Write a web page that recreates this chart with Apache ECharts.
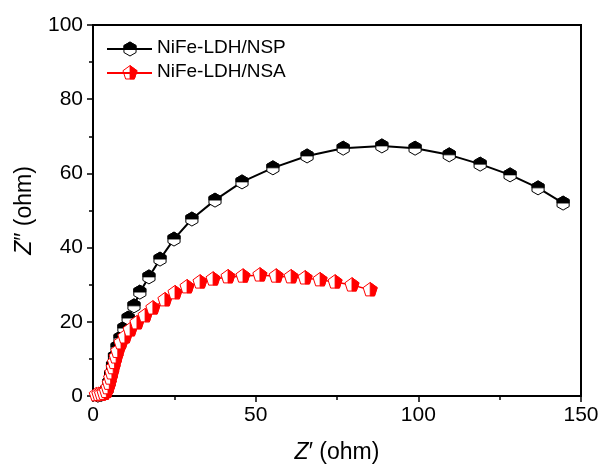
<!DOCTYPE html>
<html>
<head>
<meta charset="utf-8">
<script src="https://cdn.jsdelivr.net/npm/echarts@6/dist/echarts.min.js"></script>
<style>
html,body{margin:0;padding:0;background:#fff;}
#chart{width:612px;height:470px;}
</style>
</head>
<body>
<div id="chart"></div>
<script>
// ---- data ----
const seriesNames = ['NiFe-LDH/NSP', 'NiFe-LDH/NSA'];
const nspX = [1.5,2.5,3.5,4.3,4.9,5.4,6.0,6.6,7.4,8.3,9.5,10.8,12.6,14.4,17.2,20.6,24.9,30.4,37.5,45.8,55.3,65.8,76.9,88.8,99.0,109.5,119.0,128.2,136.8,144.5];
const nspY = [0.2,0.4,0.8,1.8,3.6,5.8,8.2,10.6,13.2,15.6,18.3,21.0,24.3,28.0,32.1,36.9,42.3,47.7,52.8,57.7,61.5,64.7,66.8,67.4,66.8,65.0,62.5,59.6,56.1,52.0];
const nsaX = [1.0,1.8,2.6,3.4,4.1,4.6,5.0,5.4,5.8,6.2,6.6,7.1,7.6,8.6,9.8,11.4,13.5,16.0,18.4,22.1,25.2,28.9,32.9,36.9,41.5,46.1,51.3,56.3,60.9,65.2,69.8,74.4,79.6,85.2];
const nsaY = [0.3,0.4,0.5,0.7,1.2,2.2,3.4,4.8,6.2,7.6,9.0,10.5,12.0,14.3,15.9,17.8,19.7,21.6,23.7,25.9,27.8,29.4,30.7,31.5,32.1,32.3,32.6,32.3,32.1,31.8,31.3,30.7,29.9,28.6];
const xTicks = [0, 50, 100, 150];
const yTicks = [0, 20, 40, 60, 80, 100];

// ---- marker shapes ----
const hexR = 7, hexW = hexR * Math.cos(Math.PI / 6);
const hexFull = [[0,-hexR],[hexW,-hexR/2],[hexW,hexR/2],[0,hexR],[-hexW,hexR/2],[-hexW,-hexR/2]];
const hexHalf = [[-hexW,0],[-hexW,-hexR/2],[0,-hexR],[hexW,-hexR/2],[hexW,0]];
const penR = 7.4;
function pv(deg){ const a = deg*Math.PI/180; return [penR*Math.cos(a), penR*Math.sin(a)]; }
const penFull = [pv(-90), pv(-18), pv(54), pv(126), pv(198)];
const penHalf = [pv(-90), pv(-18), pv(54), [0, pv(54)[1]]];

function shift(pts, cx, cy){ return pts.map(p => [cx + p[0], cy + p[1]]); }
function markerGroup(cx, cy, full, half, color){
  return {type:'group', children:[
    {type:'polygon', shape:{points: shift(full, cx, cy)}, style:{fill:'#fff', stroke:color, lineWidth:1}},
    {type:'polygon', shape:{points: shift(half, cx, cy)}, style:{fill:color, stroke:color, lineWidth:0.8}}
  ]};
}
function zip(xs, ys){ return xs.map((x,i)=>[x, ys[i]]); }

const nspData = zip(nspX, nspY);
const nsaData = zip(nsaX, nsaY);

const font = 'Liberation Sans, Arial, sans-serif';
const chart = echarts.init(document.getElementById('chart'), null, {renderer:'canvas'});
chart.setOption({
  animation:false,
  backgroundColor:'#fff',
  grid:{left:93, right:31, top:25, bottom:74, show:true, borderColor:'#000', borderWidth:2, backgroundColor:'transparent'},
  xAxis:{
    type:'value', min:xTicks[0], max:xTicks[xTicks.length-1], interval:50,
    name:'{i|Z}′ (ohm)', nameLocation:'middle', nameGap:45,
    nameTextStyle:{fontFamily:font, fontSize:23, color:'#000', rich:{i:{fontStyle:'italic', fontFamily:font, fontSize:23, color:'#000'}}},
    axisLine:{show:true, onZero:false, lineStyle:{color:'#000', width:2}},
    axisTick:{show:true, inside:false, length:6, lineStyle:{color:'#000', width:1.5}},
    minorTick:{show:true, splitNumber:2, length:4, lineStyle:{color:'#000', width:1.5}},
    splitLine:{show:false},
    axisLabel:{fontFamily:font, fontSize:21, color:'#000', margin:9}
  },
  yAxis:{
    type:'value', min:yTicks[0], max:yTicks[yTicks.length-1], interval:20,
    name:'{i|Z}″ (ohm)', nameLocation:'middle', nameGap:57, nameRotate:90,
    nameTextStyle:{fontFamily:font, fontSize:23, color:'#000', rich:{i:{fontStyle:'italic', fontFamily:font, fontSize:23, color:'#000'}}},
    axisLine:{show:true, onZero:false, lineStyle:{color:'#000', width:2}},
    axisTick:{show:true, inside:false, length:6, lineStyle:{color:'#000', width:1.5}},
    minorTick:{show:true, splitNumber:2, length:4, lineStyle:{color:'#000', width:1.5}},
    splitLine:{show:false},
    axisLabel:{fontFamily:font, fontSize:21, color:'#000', margin:10}
  },
  graphic:[
    {type:'line', shape:{x1:107, y1:49, x2:152, y2:49}, style:{stroke:'#000', lineWidth:2}, z:10},
    Object.assign(markerGroup(130, 49, hexFull, hexHalf, '#000'), {z:10}),
    {type:'text', left:157, top:38, style:{text:seriesNames[0], font:'19px ' + font, fill:'#000'}, z:10},
    {type:'line', shape:{x1:107, y1:73, x2:152, y2:73}, style:{stroke:'#ff0000', lineWidth:2}, z:10},
    Object.assign(markerGroup(130, 73, penFull, penHalf, '#ff0000'), {z:10}),
    {type:'text', left:157, top:62, style:{text:seriesNames[1], font:'19px ' + font, fill:'#000'}, z:10}
  ],
  series:[
    {type:'line', name:seriesNames[0], data:nspData, symbol:'none', lineStyle:{color:'#000', width:2}, z:2},
    {type:'custom', name:seriesNames[0], data:nspData, z:3,
      renderItem:function(params, api){ const p = api.coord([api.value(0), api.value(1)]); return markerGroup(p[0], p[1], hexFull, hexHalf, '#000'); }},
    {type:'line', name:seriesNames[1], data:nsaData, symbol:'none', lineStyle:{color:'#ff0000', width:1.5}, z:4},
    {type:'custom', name:seriesNames[1], data:nsaData, z:5,
      renderItem:function(params, api){ const p = api.coord([api.value(0), api.value(1)]); return markerGroup(p[0], p[1], penFull, penHalf, '#ff0000'); }}
  ]
});
</script>
</body>
</html>
